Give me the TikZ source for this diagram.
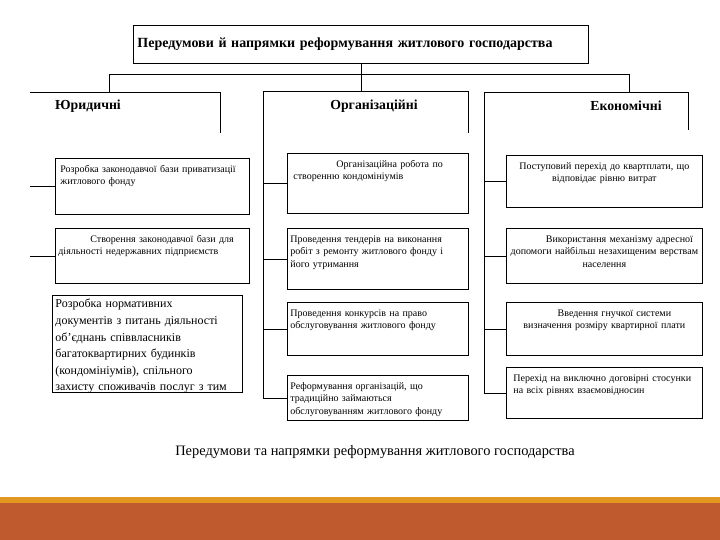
\documentclass[tikz,border=0pt]{standalone}
\usepackage{fontspec}
\setmainfont{Liberation Serif}
\usepackage{xcolor}
\definecolor{bandgold}{RGB}{226,152,32}
\definecolor{bandrust}{RGB}{190,90,46}

\begin{document}
\begin{tikzpicture}[
  x=1pt, y=-1pt,
  wire/.style={draw, line width=0.8pt},
  titlebox/.style={wire, anchor=north west, align=left, text width=447pt,
    minimum height=38pt, inner xsep=4pt, font=\fontsize{14}{16}\selectfont\bfseries},
  headtext/.style={font=\fontsize{13.8}{16}\selectfont\bfseries},
  itembox/.style={wire, anchor=north west, align=left, inner xsep=3pt,
    inner ysep=7pt, text height=7pt, font=\fontsize{10}{12.5}\selectfont},
  leftbox/.style={itembox, text width=188pt},
  midbox/.style={itembox, text width=175pt},
  rightbox/.style={itembox, text width=190pt, align=center}
]
\useasboundingbox (0,0) rectangle (720,540);
\fill[white] (0,0) rectangle (720,540);

\node[titlebox] (title) at (133,25) {Передумови й напрямки реформування житлового господарства};

\node[headtext] (jurhead) at (88,106) {Юридичні};
\node[headtext] (orghead) at (374,106) {Організаційні};
\node[headtext] (ekhead) at (626,106) {Економічні};

\node[leftbox, text depth=35pt] (jur1) at (55,158) {\hspace*{2pt}Розробка законодавчої бази приватизації\\\hspace*{2pt}житлового фонду};
\node[leftbox, text depth=34pt] (jur2) at (55,228) {\hspace*{32pt}Створення законодавчої бази для\\діяльності недержавних підприємств};
\node[leftbox, text width=184pt, inner ysep=4pt, text height=8.5pt, text depth=80.5pt,
  font=\fontsize{12}{16.6}\selectfont] (jur3) at (52,295) {Розробка нормативних\\документів з питань діяльності\\об’єднань співвласників\\багатоквартирних будинків\\(кондомініумів), спільного\\захисту споживачів послуг з тим};

\node[midbox, text depth=39pt] (org1) at (287,153) {\hspace*{46pt}Організаційна робота по\\\hspace*{3pt}створенню кондомініумів};
\node[midbox, text depth=40pt] (org2) at (287,228) {Проведення тендерів на виконання\\робіт з ремонту житлового фонду і\\його утримання};
\node[midbox, text depth=32pt] (org3) at (287,302) {Проведення конкурсів на право\\обслуговування житлового фонду};
\node[midbox, text depth=24pt] (org4) at (287,375) {Реформування організацій, що\\традиційно займаються\\обслуговуванням житлового фонду};

\node[rightbox, text depth=31pt] (ek1) at (506,155) {Поступовий перехід до квартплати, що\\відповідає рівню витрат};
\node[rightbox, text depth=34pt] (ek2) at (506,228) {\hspace*{30pt}Використання механізму адресної\\допомоги найбільш незахищеним верствам\\населення};
\node[rightbox, text depth=32pt] (ek3) at (506,302) {\hspace*{20pt}Введення гнучкої системи\\визначення розміру квартирної плати};
\node[rightbox, align=left, text depth=30pt] (ek4) at (506,367) {\hspace*{4pt}Перехід на виключно договірні стосунки\\\hspace*{4pt}на всіх рівнях взаємовідносин};

\coordinate (jurtop) at (30,92);
\coordinate (orgtop) at (263,91);
\coordinate (ektop) at (484,92);

\draw[wire] (title.south) -- (title.south |- orgtop);
\draw[wire] (109,92) |- (629,74) -- (629,92);
\draw[wire] (jurtop) -- ++(190,0) -- ++(0,41);
\draw[wire] (org4.west) -| (orgtop) -- ++(205,0) -- ++(0,42);
\draw[wire] (ek4.west) -| (ektop) -- ++(204,0) -- ++(0,38);
\foreach \n in {jur1,jur2} \draw[wire] (\n.west) -- (\n.west -| jurtop);
\foreach \n in {org1,org2,org3} \draw[wire] (\n.west) -- (\n.west -| orgtop);
\foreach \n in {ek1,ek2,ek3} \draw[wire] (\n.west) -- (\n.west -| ektop);

\node[font=\fontsize{14.4}{16}\selectfont] (caption) at (375,452) {Передумови та напрямки реформування житлового господарства};

\fill[bandgold] (0,497) rectangle (720,503);
\fill[bandrust] (0,503) rectangle (720,540);
\end{tikzpicture}
\end{document}
